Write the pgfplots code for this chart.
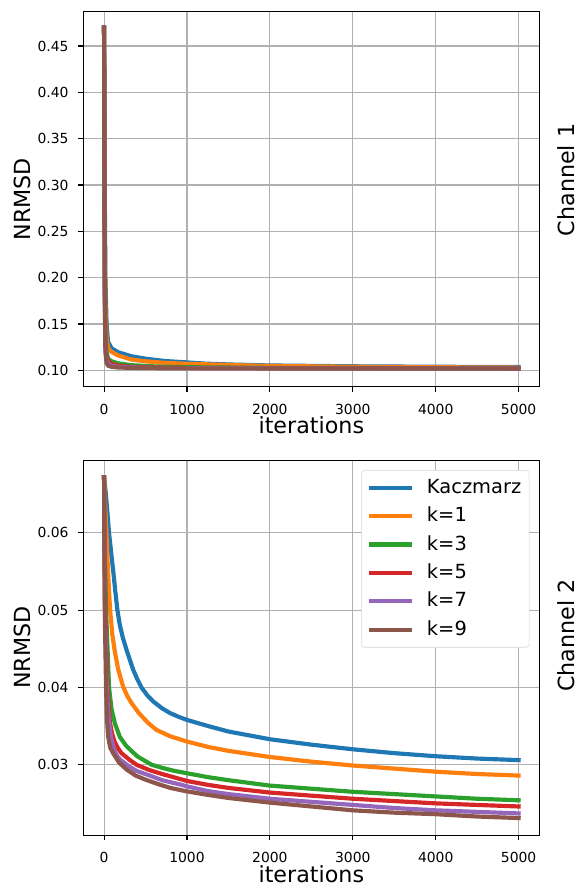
\documentclass[border=0pt]{standalone}
\usepackage{fontspec}
\setmainfont{DejaVu Sans}
\usepackage{pgfplots}
\pgfplotsset{compat=1.18}

\definecolor{tabblue}{HTML}{1F77B4}
\definecolor{taborange}{HTML}{FF7F0E}
\definecolor{tabgreen}{HTML}{2CA02C}
\definecolor{tabred}{HTML}{D62728}
\definecolor{tabpurple}{HTML}{9467BD}
\definecolor{tabbrown}{HTML}{8C564B}
\definecolor{gridgray}{HTML}{B0B0B0}
\definecolor{legframe}{HTML}{D6D6D6}

\pgfplotsset{
  chan/.style={
    scale only axis, width=328.3pt, height=269.8pt,
    clip mode=individual,
    xmin=-250, xmax=5250,
    xtick={0,1000,2000,3000,4000,5000},
    xticklabels={0,1000,2000,3000,4000,5000},
    scaled ticks=false,
    tick align=outside, xtick pos=left, ytick pos=left,
    major tick length=3.5pt,
    tick style={black, line width=0.8pt},
    axis line style={black, line width=0.8pt},
    grid=major, grid style={color=gridgray, line width=0.8pt},
    tick label style={font=\fontsize{10}{12}\selectfont},
    xticklabel style={inner sep=0pt, anchor=north, yshift=-8.9pt},
    yticklabel style={inner sep=0pt, anchor=east, xshift=-7pt},
    label style={font=\fontsize{16}{19.2}\selectfont},
    xlabel={iterations},
    ylabel={NRMSD},
    xlabel style={at={(axis description cs:0.5,0)}, anchor=base, yshift=-33.8pt},
    ylabel style={at={(axis description cs:-0.1154,0.5)}, anchor=base},
    every axis plot/.append style={line width=3pt, line join=round, line cap=rect},
  },
}

\begin{document}
\begin{tikzpicture}
\useasboundingbox (-60pt,-360.2pt) rectangle (356.9pt,278.4pt);

% channel 1
\begin{axis}[chan, at={(0pt,0pt)}, anchor=south west,
    ymin=0.0823, ymax=0.4867,
    ytick={0.10,0.15,0.20,0.25,0.30,0.35,0.40,0.45},
    yticklabels={0.10,0.15,0.20,0.25,0.30,0.35,0.40,0.45}]
\addplot[tabblue] coordinates {(0,0.470)(8,0.30)(16,0.20)(30,0.150)(48,0.131)(89,0.1238)(169,0.1195)(330,0.1151)(500,0.1125)(733,0.1100)(1000,0.1085)(1217,0.1072)(1500,0.1063)(2000,0.1052)(3000,0.1043)(4000,0.1038)(5000,0.1035)};
\addplot[taborange] coordinates {(0,0.470)(8,0.26)(16,0.17)(30,0.135)(48,0.124)(89,0.1200)(169,0.1160)(330,0.1116)(500,0.1097)(733,0.1080)(1000,0.1070)(1217,0.1065)(1500,0.1057)(2000,0.1047)(3000,0.1038)(4000,0.1033)(5000,0.1029)};
\addplot[tabgreen] coordinates {(0,0.470)(8,0.22)(16,0.14)(30,0.120)(48,0.1125)(89,0.1097)(169,0.1075)(330,0.1055)(600,0.1042)(1000,0.1033)(2000,0.1026)(5000,0.1021)};
\addplot[tabred] coordinates {(0,0.470)(8,0.20)(16,0.13)(30,0.115)(48,0.1100)(89,0.1070)(169,0.1050)(330,0.1037)(600,0.1030)(1000,0.1026)(2000,0.1023)(5000,0.1020)};
\addplot[tabpurple] coordinates {(0,0.470)(8,0.19)(16,0.125)(30,0.111)(48,0.1075)(89,0.1050)(169,0.1038)(330,0.1030)(600,0.1026)(1000,0.1023)(2000,0.1021)(5000,0.1019)};
\addplot[tabbrown] coordinates {(0,0.470)(8,0.18)(16,0.120)(30,0.108)(48,0.1050)(89,0.1038)(169,0.1030)(330,0.1026)(600,0.1023)(1000,0.1021)(2000,0.1020)(5000,0.1019)};
\node[rotate=90, anchor=base, font=\fontsize{16}{19.2}\selectfont] at (axis description cs:1.0765,0.5517) {Channel 1};
\end{axis}

% channel 2
\begin{axis}[chan, at={(0pt,-322.8pt)}, anchor=south west,
    ymin=0.0209, ymax=0.0694,
    ytick={0.03,0.04,0.05,0.06},
    yticklabels={0.03,0.04,0.05,0.06},
    legend cell align=left,
    legend style={at={(rel axis cs:0.978,0.9733)}, anchor=north east,
      font=\fontsize{14}{16.8}\selectfont,
      draw=legframe, rounded corners=2pt, fill=white,
      inner xsep=5.6pt, inner ysep=6.2pt,
      row sep=7.4pt, column sep=10.5pt,
      nodes={inner sep=0pt, text depth=2.4pt}},
    legend image code/.code={\draw[#1, line cap=rect, sharp corners] (0pt,0pt) -- (28pt,0pt);}]
\addplot[tabblue] coordinates {(0,0.0672)(20,0.0652)(40,0.0627)(60,0.0600)(85,0.0575)(109,0.0552)(135,0.0525)(161,0.0500)(190,0.0481)(225,0.0465)(270,0.0449)(310,0.0436)(351,0.0423)(400,0.0411)(451,0.0400)(520,0.0390)(592,0.0382)(700,0.0373)(794,0.0367)(900,0.0362)(1000,0.0358)(1257,0.0350)(1500,0.0343)(2000,0.0333)(2500,0.0326)(3000,0.0320)(3500,0.0315)(4000,0.0311)(4500,0.0308)(5000,0.0306)};
\addlegendentry{Kaczmarz}
\addplot[taborange] coordinates {(0,0.0672)(16,0.0630)(32,0.0590)(50,0.0545)(73,0.0500)(100,0.0468)(129,0.0447)(169,0.0424)(230,0.0401)(280,0.0389)(330,0.0380)(419,0.0367)(532,0.0354)(633,0.0345)(794,0.0337)(1000,0.0330)(1257,0.0323)(1500,0.0318)(2000,0.0310)(2500,0.0304)(3000,0.0299)(3500,0.0295)(4000,0.0291)(4500,0.0288)(5000,0.0286)};
\addlegendentry{k=1}
\addplot[tabgreen] coordinates {(0,0.0672)(8,0.0580)(24,0.0500)(60,0.0400)(90,0.0372)(129,0.0354)(190,0.0336)(270,0.0324)(400,0.0311)(572,0.0300)(700,0.0296)(850,0.0292)(1000,0.0289)(1250,0.0284)(1500,0.0280)(2000,0.0273)(2500,0.0269)(3000,0.0265)(3500,0.0262)(4000,0.0259)(4500,0.0256)(5000,0.0254)};
\addlegendentry{k=3}
\addplot[tabred] coordinates {(0,0.0672)(6,0.0580)(15,0.0500)(40,0.0400)(70,0.0355)(97,0.0340)(130,0.0329)(170,0.0321)(210,0.0315)(300,0.0307)(391,0.0300)(550,0.0293)(700,0.0288)(935,0.0281)(1000,0.0279)(1250,0.0274)(1500,0.0270)(2000,0.0264)(2500,0.0260)(3000,0.0256)(3500,0.0253)(4000,0.0250)(4500,0.0248)(5000,0.0246)};
\addlegendentry{k=5}
\addplot[tabpurple] coordinates {(0,0.0672)(5,0.0570)(10,0.0500)(32,0.0400)(55,0.0360)(81,0.0337)(120,0.0320)(160,0.0311)(202,0.0306)(300,0.0298)(391,0.0292)(550,0.0286)(700,0.0280)(935,0.0274)(1000,0.0272)(1250,0.0266)(1500,0.0262)(2000,0.0256)(2500,0.0252)(3000,0.0248)(3500,0.0244)(4000,0.0241)(4500,0.0239)(5000,0.0237)};
\addlegendentry{k=7}
\addplot[tabbrown] coordinates {(0,0.0672)(5,0.0560)(10,0.0490)(24,0.0400)(35,0.0360)(48,0.0337)(75,0.0322)(109,0.0315)(180,0.0303)(270,0.0294)(380,0.0286)(492,0.0281)(650,0.0275)(800,0.0270)(975,0.0266)(1250,0.0261)(1500,0.0257)(2000,0.0251)(2500,0.0246)(3000,0.0241)(3500,0.0238)(4000,0.0236)(4500,0.0233)(5000,0.0231)};
\addlegendentry{k=9}
\node[rotate=90, anchor=base, font=\fontsize{16}{19.2}\selectfont] at (axis description cs:1.0765,0.532) {Channel 2};
\end{axis}
\end{tikzpicture}
\end{document}
